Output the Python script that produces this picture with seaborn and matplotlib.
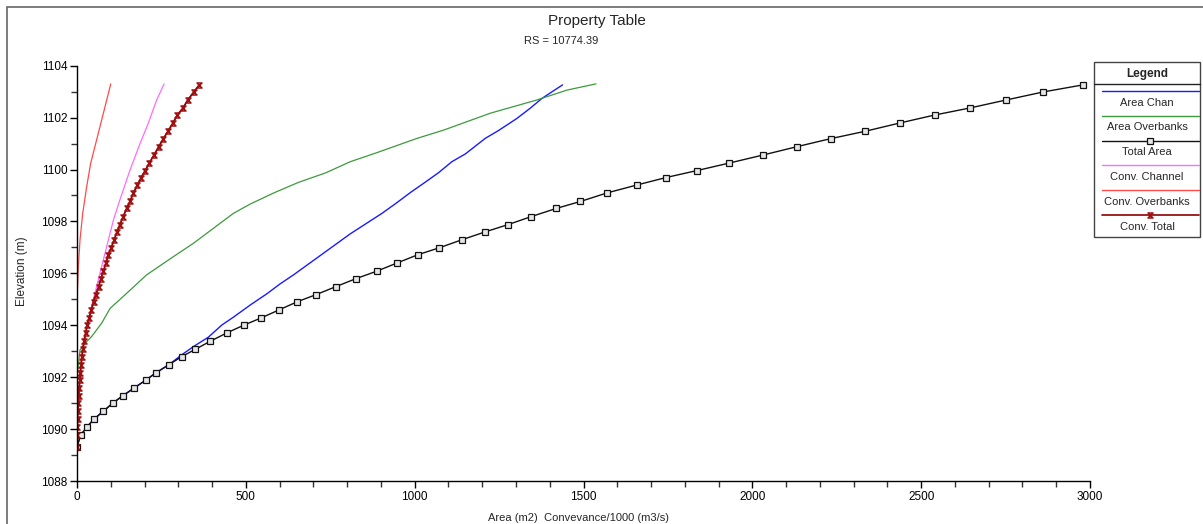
import numpy as np
import pandas as pd
import matplotlib
matplotlib.use("Agg")
import matplotlib.pyplot as plt
from matplotlib.path import Path
from matplotlib.lines import Line2D
from matplotlib.patches import Rectangle
import seaborn as sns

# ---- property table data ----
elev_total = [1089.32, 1089.77, 1090.09, 1090.38, 1090.69, 1091.00, 1091.28, 1091.58, 1091.89, 1092.17,
              1092.48, 1092.79, 1093.07, 1093.38, 1093.70, 1094.01, 1094.28, 1094.59, 1094.91, 1095.18,
              1095.49, 1095.80, 1096.08, 1096.40, 1096.72, 1096.98, 1097.29, 1097.59, 1097.88, 1098.19,
              1098.50, 1098.77, 1099.10, 1099.40, 1099.69, 1099.96, 1100.25, 1100.56, 1100.88, 1101.19,
              1101.47, 1101.79, 1102.10, 1102.37, 1102.68, 1102.99, 1103.26]
total_area = [0, 11, 30, 50, 78, 106, 135, 169, 204, 234,
              272, 310, 350, 394, 443, 495, 545, 598, 653, 708,
              767, 827, 887, 948, 1010, 1072, 1139, 1207, 1277, 1346,
              1419, 1491, 1570, 1657, 1744, 1836, 1932, 2032, 2132, 2232,
              2333, 2436, 2540, 2644, 2752, 2862, 2979]
conv_total = [0, 0.5, 1, 1.5, 2.5, 3.5, 5, 6.5, 8, 10,
              12, 14.5, 17, 21, 25.5, 30.5, 36, 42.5, 49, 56,
              64, 71, 78, 86, 93, 101, 110, 118, 127, 137,
              147, 157, 167, 179, 190, 202, 214, 228, 242, 256,
              269, 284, 297, 314, 328, 346, 362]

elev_chan = [1089.32, 1089.77, 1090.09, 1090.38, 1090.69, 1091.00, 1091.28, 1091.58, 1091.89, 1092.17,
             1092.48, 1092.86, 1093.18, 1093.54, 1094.01, 1094.31, 1094.78, 1095.21, 1095.59, 1095.94,
             1096.41, 1096.87, 1097.20, 1097.52, 1097.89, 1098.31, 1098.72, 1099.11, 1099.51, 1099.88,
             1100.30, 1100.60, 1101.20, 1101.50, 1101.97, 1102.36, 1102.74, 1103.04, 1103.26]
area_chan = [0, 11, 30, 50, 78, 106, 135, 169, 204, 234,
             272, 310, 345, 389, 429, 463, 513, 562, 601, 641,
             691, 740, 775, 809, 853, 903, 947, 987, 1031, 1071,
             1110, 1150, 1209, 1248, 1303, 1342, 1377, 1412, 1438]

elev_ob = [1092.0, 1093.05, 1093.31, 1093.56, 1094.08, 1094.65, 1095.23, 1095.94, 1096.64, 1097.16,
           1097.54, 1097.93, 1098.31, 1098.67, 1099.10, 1099.50, 1099.88, 1100.30, 1100.65, 1101.20,
           1101.52, 1102.17, 1102.68, 1103.06, 1103.30]
area_ob = [0, 9, 24, 43, 73, 98, 147, 206, 285, 345,
           384, 424, 463, 513, 583, 655, 738, 809, 888, 1007,
           1086, 1224, 1362, 1451, 1537]

elev_cchan = [1089.32, 1090.38, 1091.28, 1092.17, 1093.07, 1094.01, 1094.97, 1095.75, 1096.52,
              1097.29, 1098.06, 1098.83, 1099.98, 1101.01, 1101.78, 1102.68, 1103.30]
conv_chan = [0, 1.5, 5, 10, 17, 30, 48, 63, 78, 93, 108, 127, 157, 187, 211, 236, 258]

elev_cob = [1091.5, 1094.0, 1095.23, 1096.26, 1097.29, 1098.31, 1099.34, 1100.24, 1100.88,
            1101.65, 1102.42, 1103.30]
conv_ob = [0, 0.5, 1, 4, 8.9, 16.9, 28.7, 40.5, 53, 68, 83, 100]

legend_labels = ["Area Chan", "Area Overbanks", "Total Area",
                 "Conv. Channel", "Conv. Overbanks", "Conv. Total"]

sns.set_theme(style="ticks")
plt.rcParams["font.family"] = ["Liberation Sans", "DejaVu Sans"]

W, H = 1203, 524
fig = plt.figure(figsize=(W / 100, H / 100), dpi=100)
fig.patch.set_facecolor("white")


def fx(px):
    return px / W


def fy(py):
    return 1 - py / H


ax = fig.add_axes([fx(77), fy(481), fx(1090) - fx(77), fy(65.7) - fy(481)])
ax.set_facecolor("white")

# hourglass marker for conveyance total
hourglass = Path([(-1, 1), (1, 1), (-1, -1), (1, -1), (-1, 1)],
                 [Path.MOVETO, Path.LINETO, Path.LINETO, Path.LINETO, Path.CLOSEPOLY])

C_BLUE = "#1a1aff"
C_GREEN = "#3c9a3c"
C_BLACK = "#111111"
C_PINK = "#ff6bff"
C_RED = "#ff4a4a"
C_DARKRED = "#8b0000"

series = [
    (area_chan, elev_chan, dict(color=C_BLUE, lw=1.0)),
    (area_ob, elev_ob, dict(color=C_GREEN, lw=0.9)),
    (conv_ob, elev_cob, dict(color=C_RED, lw=0.9)),
    (conv_chan, elev_cchan, dict(color=C_PINK, lw=0.9)),
    (total_area, elev_total, dict(color=C_BLACK, lw=1.0, marker="s", markersize=3.8,
                                   markerfacecolor="#e6e6e6", markeredgecolor=C_BLACK,
                                   markeredgewidth=0.9)),
    (conv_total, elev_total, dict(color=C_DARKRED, lw=1.3, marker=hourglass, markersize=3.6,
                                   markerfacecolor="none", markeredgecolor="#a01010",
                                   markeredgewidth=1.1)),
]
for xs, ys, kw in series:
    df = pd.DataFrame({"x": xs, "y": ys})
    sns.lineplot(data=df, x="x", y="y", sort=False, estimator=None, ax=ax, **kw)

ax.set_xlim(0, 3000)
ax.set_ylim(1088, 1104)
ax.set_xticks(np.arange(0, 3001, 500))
ax.set_xticks(np.arange(0, 3001, 100), minor=True)
ax.set_yticks(np.arange(1088, 1104.1, 2))
ax.set_yticks(np.arange(1088, 1104.1, 1), minor=True)
for s in ["top", "right"]:
    ax.spines[s].set_visible(False)
for s in ["left", "bottom"]:
    ax.spines[s].set_color("black")
    ax.spines[s].set_linewidth(1.0)
ax.tick_params(axis="both", which="major", length=5, width=1, color="black",
               labelsize=8.5, labelcolor="black", pad=2)
ax.tick_params(axis="both", which="minor", length=4, width=1, color="#333333")
ax.set_xlabel("Area (m2)  Convevance/1000 (m3/s)", fontsize=8)
ax.set_ylabel("Elevation (m)", fontsize=8.5)
ax.xaxis.set_label_coords(0.495, -0.076)
ax.yaxis.set_label_coords(-0.054, 0.505)
ax.yaxis.label.set_va("center")

# outer frame
fig.add_artist(Rectangle((fx(7), fy(560)), fx(1260) - fx(7), fy(7) - fy(560),
                         transform=fig.transFigure, fill=False, edgecolor="#666666", lw=1.2))

# titles
fig.text(fx(597), fy(21), "Property Table", ha="center", va="center", fontsize=11)
fig.text(fx(561), fy(41), "RS = 10774.39", ha="center", va="center", fontsize=8)

# legend panel
fig.add_artist(Rectangle((fx(1094), fy(237)), fx(1200) - fx(1094), fy(62) - fy(237),
                         transform=fig.transFigure, fill=True, facecolor="white",
                         edgecolor="#444444", lw=1.0))
fig.add_artist(Line2D([fx(1094), fx(1200)], [fy(83.5), fy(83.5)], transform=fig.transFigure,
                      color="#222222", lw=1.0))
fig.text(fx(1147), fy(73.5), "Legend", ha="center", va="center", fontsize=8.5, fontweight="bold")

leg_styles = [
    dict(color=C_BLUE, lw=1.0),
    dict(color=C_GREEN, lw=1.0),
    dict(color=C_BLACK, lw=1.0),
    dict(color=C_PINK, lw=1.0),
    dict(color=C_RED, lw=1.0),
    dict(color=C_DARKRED, lw=1.2),
]
line_y = [90.7, 115.5, 140.5, 164.8, 189.8, 215.0]
text_y = [102.5, 127.5, 152.0, 177.5, 202.3, 226.8]
for i, (lab, st) in enumerate(zip(legend_labels, leg_styles)):
    fig.add_artist(Line2D([fx(1102), fx(1199)], [fy(line_y[i]), fy(line_y[i])],
                          transform=fig.transFigure, **st))
    fig.text(fx(1147), fy(text_y[i]), lab, ha="center", va="center", fontsize=8)
fig.add_artist(Line2D([fx(1150)], [fy(line_y[2])], transform=fig.transFigure,
                      marker="s", markersize=3.8, markerfacecolor="#e6e6e6",
                      markeredgecolor=C_BLACK, markeredgewidth=0.9, lw=0))
fig.add_artist(Line2D([fx(1150)], [fy(line_y[5])], transform=fig.transFigure,
                      marker=hourglass, markersize=3.6, markerfacecolor="none",
                      markeredgecolor="#a01010", markeredgewidth=1.1, lw=0))

fig.savefig("out.png", dpi=100, facecolor="white")
